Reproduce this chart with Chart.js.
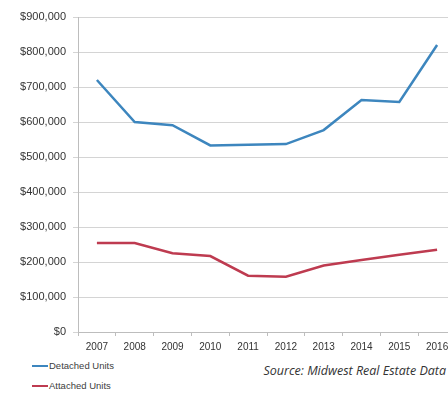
<!DOCTYPE html>
<html>
<head>
<meta charset="utf-8">
<script src="https://cdn.jsdelivr.net/npm/chart.js@4"></script>
<style>
  html, body { margin: 0; padding: 0; background: #fff; overflow: hidden; width: 448px; height: 393px; }
  #wrap { position: absolute; left: 0; top: 0; width: 456px; height: 360px; }
  .leg { position: absolute; left: 32px; font: 9.5px "Liberation Sans", sans-serif; color: #404040; }
  .leg span { display: inline-block; width: 16px; height: 2px; vertical-align: middle; margin-right: 1px; }
  #source { position: absolute; right: 2px; top: 362px; font: italic 12.5px "Open Sans", sans-serif; color: #333; }
</style>
</head>
<body>
<div id="wrap"><canvas id="myChart"></canvas></div>
<div class="leg" style="top:360px"><span style="background:#3d86be"></span>Detached Units</div>
<div class="leg" style="top:380px"><span style="background:#be3b50"></span>Attached Units</div>
<div id="source">Source: Midwest Real Estate Data</div>
<script>
// data
var years = ['2007', '2008', '2009', '2010', '2011', '2012', '2013', '2014', '2015', '2016'];
var detached = [720000, 600000, 591000, 533000, 535000, 537000, 577000, 663000, 657000, 820000];
var attached = [254000, 254000, 225000, 217000, 161000, 158000, 190000, 206000, 221000, 235000];

function money(v) {
    return '$' + v.toLocaleString('en-US');
}

const ctx = document.getElementById('myChart').getContext('2d');

var config = {
    type: 'line',
    data: {
        labels: years,
        datasets: [{
            label: 'Detached Units',
            data: detached,
            borderColor: '#3d86be',
            borderWidth: 2.5,
            pointRadius: 0,
            tension: 0
        }, {
            label: 'Attached Units',
            data: attached,
            borderColor: '#be3b50',
            borderWidth: 2.5,
            pointRadius: 0,
            tension: 0
        }]
    },
    options: {
        responsive: true,
        maintainAspectRatio: false,
        animation: false,
        layout: { padding: { top: 17, right: 0, left: 0, bottom: 0 } },
        plugins: {
            legend: { display: false },
            tooltip: { enabled: false }
        },
        scales: {
            x: {
                offset: true,
                grid: { drawOnChartArea: false, drawTicks: true, tickLength: 4, offset: true, color: '#bdbdbd' },
                border: { color: '#bdbdbd' },
                ticks: { color: '#333', font: { family: 'Liberation Sans', size: 10 }, padding: 5, maxRotation: 0, autoSkip: false },
                afterFit: function (scale) { scale.height = 28; }
            },
            y: {
                min: 0,
                max: 900000,
                grid: { color: '#d4d4d4', tickLength: 5 },
                border: { color: '#bdbdbd' },
                ticks: {
                    stepSize: 100000,
                    color: '#333',
                    font: { family: 'Liberation Sans', size: 11 },
                    padding: 7,
                    callback: function (v) { return money(v); }
                },
                afterFit: function (scale) { scale.width = 78; }
            }
        }
    }
};

let myChart = new Chart(ctx, config);
</script>
</body>
</html>
